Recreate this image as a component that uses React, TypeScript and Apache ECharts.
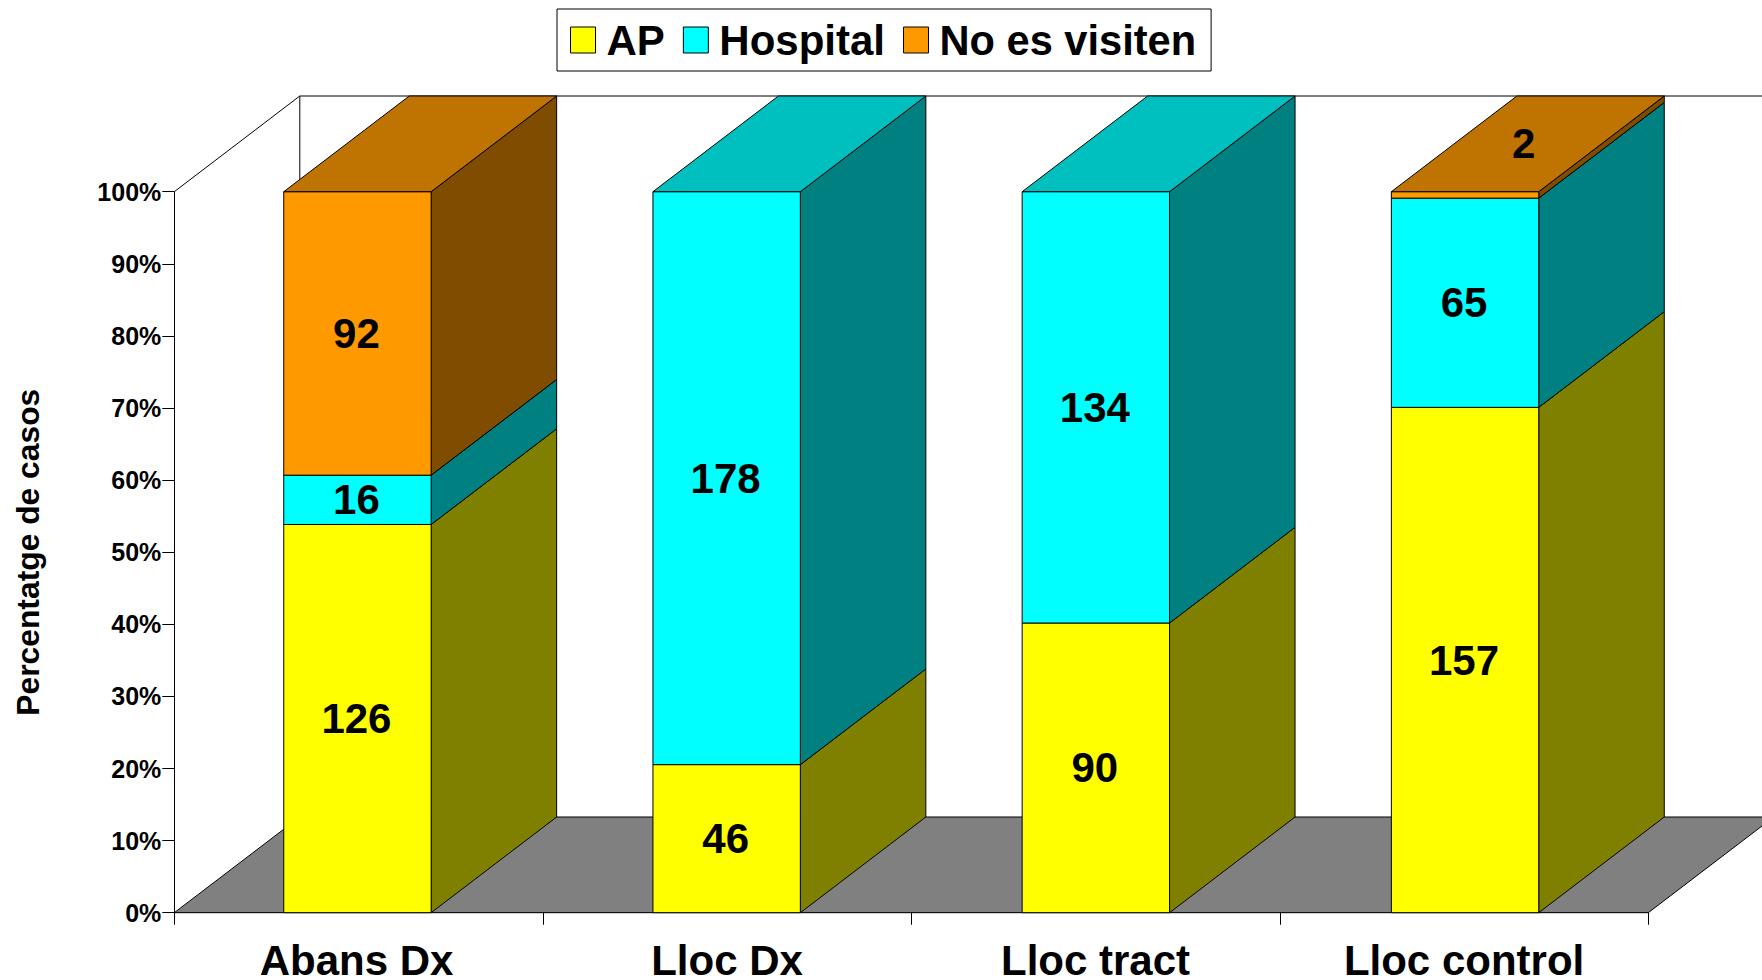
import React, { useEffect, useRef } from "react";
import * as echarts from "echarts";

const categories = ["Abans Dx", "Lloc Dx", "Lloc tract", "Lloc control"];
const apCases = [126, 46, 90, 157];
const hospitalCases = [16, 178, 134, 65];
const notSeenCases = [92, 0, 0, 2];
const yTicks = { min: 0, max: 100, interval: 10 };

const FONT = '"Liberation Sans", Arial, sans-serif';
const BLACK = "#000000";
const FLOOR_COLOR = "#808080";

// Front, side and top shades of each stack segment.
const palettes = {
  AP: { front: "#FFFF00", side: "#808000", top: "#BFBF00" },
  Hospital: { front: "#00FFFF", side: "#008080", top: "#00BFBF" },
  "No es visiten": { front: "#FF9900", side: "#804D00", top: "#BF7300" },
};

// Oblique projection of the chart's depth, in pixels.
const DEPTH_X = 125.5;
const DEPTH_Y = 95.7;
const BAR_RATIO = 0.4;
// Bars sit slightly wider apart than the category bands.
const BAR_NUDGE = [-1.1, -0.4, 0.3, 1];

const stackedSeries = [
  { name: "AP", counts: apCases },
  { name: "Hospital", counts: hospitalCases },
  { name: "No es visiten", counts: notSeenCases },
];

const totals = categories.map((_, i) =>
  stackedSeries.reduce((sum, s) => sum + s.counts[i], 0)
);

// Each row: category index, start %, end %, case count, is the top of its stack.
function segmentRows(seriesIndex: number) {
  return categories.map((_, i) => {
    let before = 0;
    for (let s = 0; s < seriesIndex; s++) before += stackedSeries[s].counts[i];
    const count = stackedSeries[seriesIndex].counts[i];
    return [
      i,
      (before / totals[i]) * 100,
      ((before + count) / totals[i]) * 100,
      count,
      before + count === totals[i] ? 1 : 0,
    ];
  });
}

function renderSegment(colors: { front: string; side: string; top: string }) {
  return (params: any, api: any) => {
    const count = api.value(3);
    if (!count) return { type: "group", children: [] };
    const cat = api.value(0);
    const bottom = api.coord([cat, api.value(1)]);
    const top = api.coord([cat, api.value(2)]);
    const band = api.size([1, 0])[0];
    const barWidth = band * BAR_RATIO;
    const x0 = bottom[0] - barWidth / 2 + BAR_NUDGE[cat];
    const x1 = x0 + barWidth;
    const yB = bottom[1];
    const yT = top[1];
    const stroke = { stroke: BLACK, lineWidth: 1 };
    const children: any[] = [
      {
        type: "polygon",
        shape: {
          points: [
            [x1, yB],
            [x1 + DEPTH_X, yB - DEPTH_Y],
            [x1 + DEPTH_X, yT - DEPTH_Y],
            [x1, yT],
          ],
        },
        style: { fill: colors.side, ...stroke },
      },
      {
        type: "rect",
        shape: { x: x0, y: yT, width: barWidth, height: yB - yT },
        style: { fill: colors.front, ...stroke },
      },
    ];
    if (api.value(4)) {
      children.push({
        type: "polygon",
        shape: {
          points: [
            [x0, yT],
            [x1, yT],
            [x1 + DEPTH_X, yT - DEPTH_Y],
            [x0 + DEPTH_X, yT - DEPTH_Y],
          ],
        },
        style: { fill: colors.top, ...stroke },
      });
    }
    // A segment too thin to hold its number carries it on the stack's top face.
    const thin = yB - yT < 30;
    children.push({
      type: "text",
      style: {
        text: String(count),
        x: (x0 + x1) / 2 - 1 + (thin ? DEPTH_X * 0.475 : 0),
        y: thin ? yT - DEPTH_Y / 2 : (yB + yT) / 2,
        align: "center",
        verticalAlign: "middle",
        fill: BLACK,
        font: `bold 42px ${FONT}`,
      },
    });
    return { type: "group", children };
  };
}

// Floor and the two wall edges behind the bars.
function renderRoom(params: any) {
  const { x, y, width, height } = params.coordSys;
  const floorY = y + height;
  const stroke = { stroke: BLACK, lineWidth: 1 };
  return {
    type: "group",
    children: [
      {
        type: "polygon",
        shape: {
          points: [
            [x, floorY],
            [x + width, floorY],
            [x + width + DEPTH_X, floorY - DEPTH_Y],
            [x + DEPTH_X, floorY - DEPTH_Y],
          ],
        },
        style: { fill: FLOOR_COLOR, ...stroke },
      },
      {
        type: "polyline",
        shape: {
          points: [
            [x, y],
            [x + DEPTH_X, y - DEPTH_Y],
            [x + width + DEPTH_X, y - DEPTH_Y],
          ],
        },
        style: { fill: "none", ...stroke },
      },
      {
        type: "line",
        shape: {
          x1: x + DEPTH_X,
          y1: y - DEPTH_Y,
          x2: x + DEPTH_X,
          y2: floorY - DEPTH_Y,
        },
        style: stroke,
      },
    ],
  };
}

export default function App() {
  const ref = useRef<HTMLDivElement>(null);

  useEffect(() => {
    const chart = echarts.init(ref.current!, null, { renderer: "svg" });
    const legendText = {
      fontFamily: FONT,
      fontWeight: "bold",
      fontSize: 42,
      color: BLACK,
    };
    chart.setOption({
      animation: false,
      backgroundColor: "#FFFFFF",
      textStyle: { fontFamily: FONT },
      grid: {
        left: 174.3,
        top: 191.7,
        width: 1474,
        height: 721,
        outerBoundsMode: "none",
      },
      legend: {
        left: 557,
        top: 9,
        padding: [10, 15, 10, 13],
        itemGap: 18,
        itemWidth: 25,
        itemHeight: 26,
        borderColor: BLACK,
        borderWidth: 1,
        selectedMode: false,
        icon: "rect",
        itemStyle: { borderColor: BLACK, borderWidth: 1 },
        textStyle: { ...legendText, padding: [0, 0, 0, 6] },
        data: [
          { name: "AP" },
          { name: "Hospital" },
          {
            name: "No es visiten",
            textStyle: { ...legendText, fontSize: 41.6, padding: [0, 0, 0, 6] },
          },
        ],
      },
      xAxis: {
        type: "category",
        data: categories.map((value, i) =>
          i === 0 ? { value, textStyle: { padding: [0, 4, 0, 0] } } : value
        ),
        boundaryGap: true,
        axisLine: { lineStyle: { color: BLACK, width: 1 } },
        axisTick: { show: true, length: 12, lineStyle: { color: BLACK } },
        axisLabel: {
          interval: 0,
          margin: 30,
          lineHeight: 36,
          fontFamily: FONT,
          fontWeight: "bold",
          fontSize: 42,
          color: BLACK,
        },
      },
      yAxis: {
        type: "value",
        min: yTicks.min,
        max: yTicks.max,
        interval: yTicks.interval,
        name: "Percentatge de casos",
        nameLocation: "middle",
        nameGap: 130,
        nameTextStyle: {
          fontFamily: FONT,
          fontWeight: "bold",
          fontSize: 31.8,
          color: BLACK,
        },
        splitLine: { show: false },
        axisLine: { show: true, lineStyle: { color: BLACK, width: 1 } },
        axisTick: { show: true, length: 12, lineStyle: { color: BLACK } },
        axisLabel: {
          margin: 13,
          formatter: "{value}%",
          fontFamily: FONT,
          fontWeight: "bold",
          fontSize: 25,
          color: BLACK,
        },
      },
      series: [
        {
          type: "custom",
          name: "room",
          silent: true,
          coordinateSystem: "cartesian2d",
          renderItem: renderRoom,
          data: [[0, 0]],
        },
        ...stackedSeries.map((s, idx) => ({
          type: "custom",
          name: s.name,
          silent: true,
          coordinateSystem: "cartesian2d",
          itemStyle: { color: palettes[s.name as keyof typeof palettes].front },
          renderItem: renderSegment(palettes[s.name as keyof typeof palettes]),
          encode: { x: 0, y: [1, 2] },
          data: segmentRows(idx),
        })),
      ],
    });
    return () => chart.dispose();
  }, []);

  return (
    <div
      ref={ref}
      style={{ position: "fixed", left: 0, top: 0, width: 1762, height: 980 }}
    />
  );
}
